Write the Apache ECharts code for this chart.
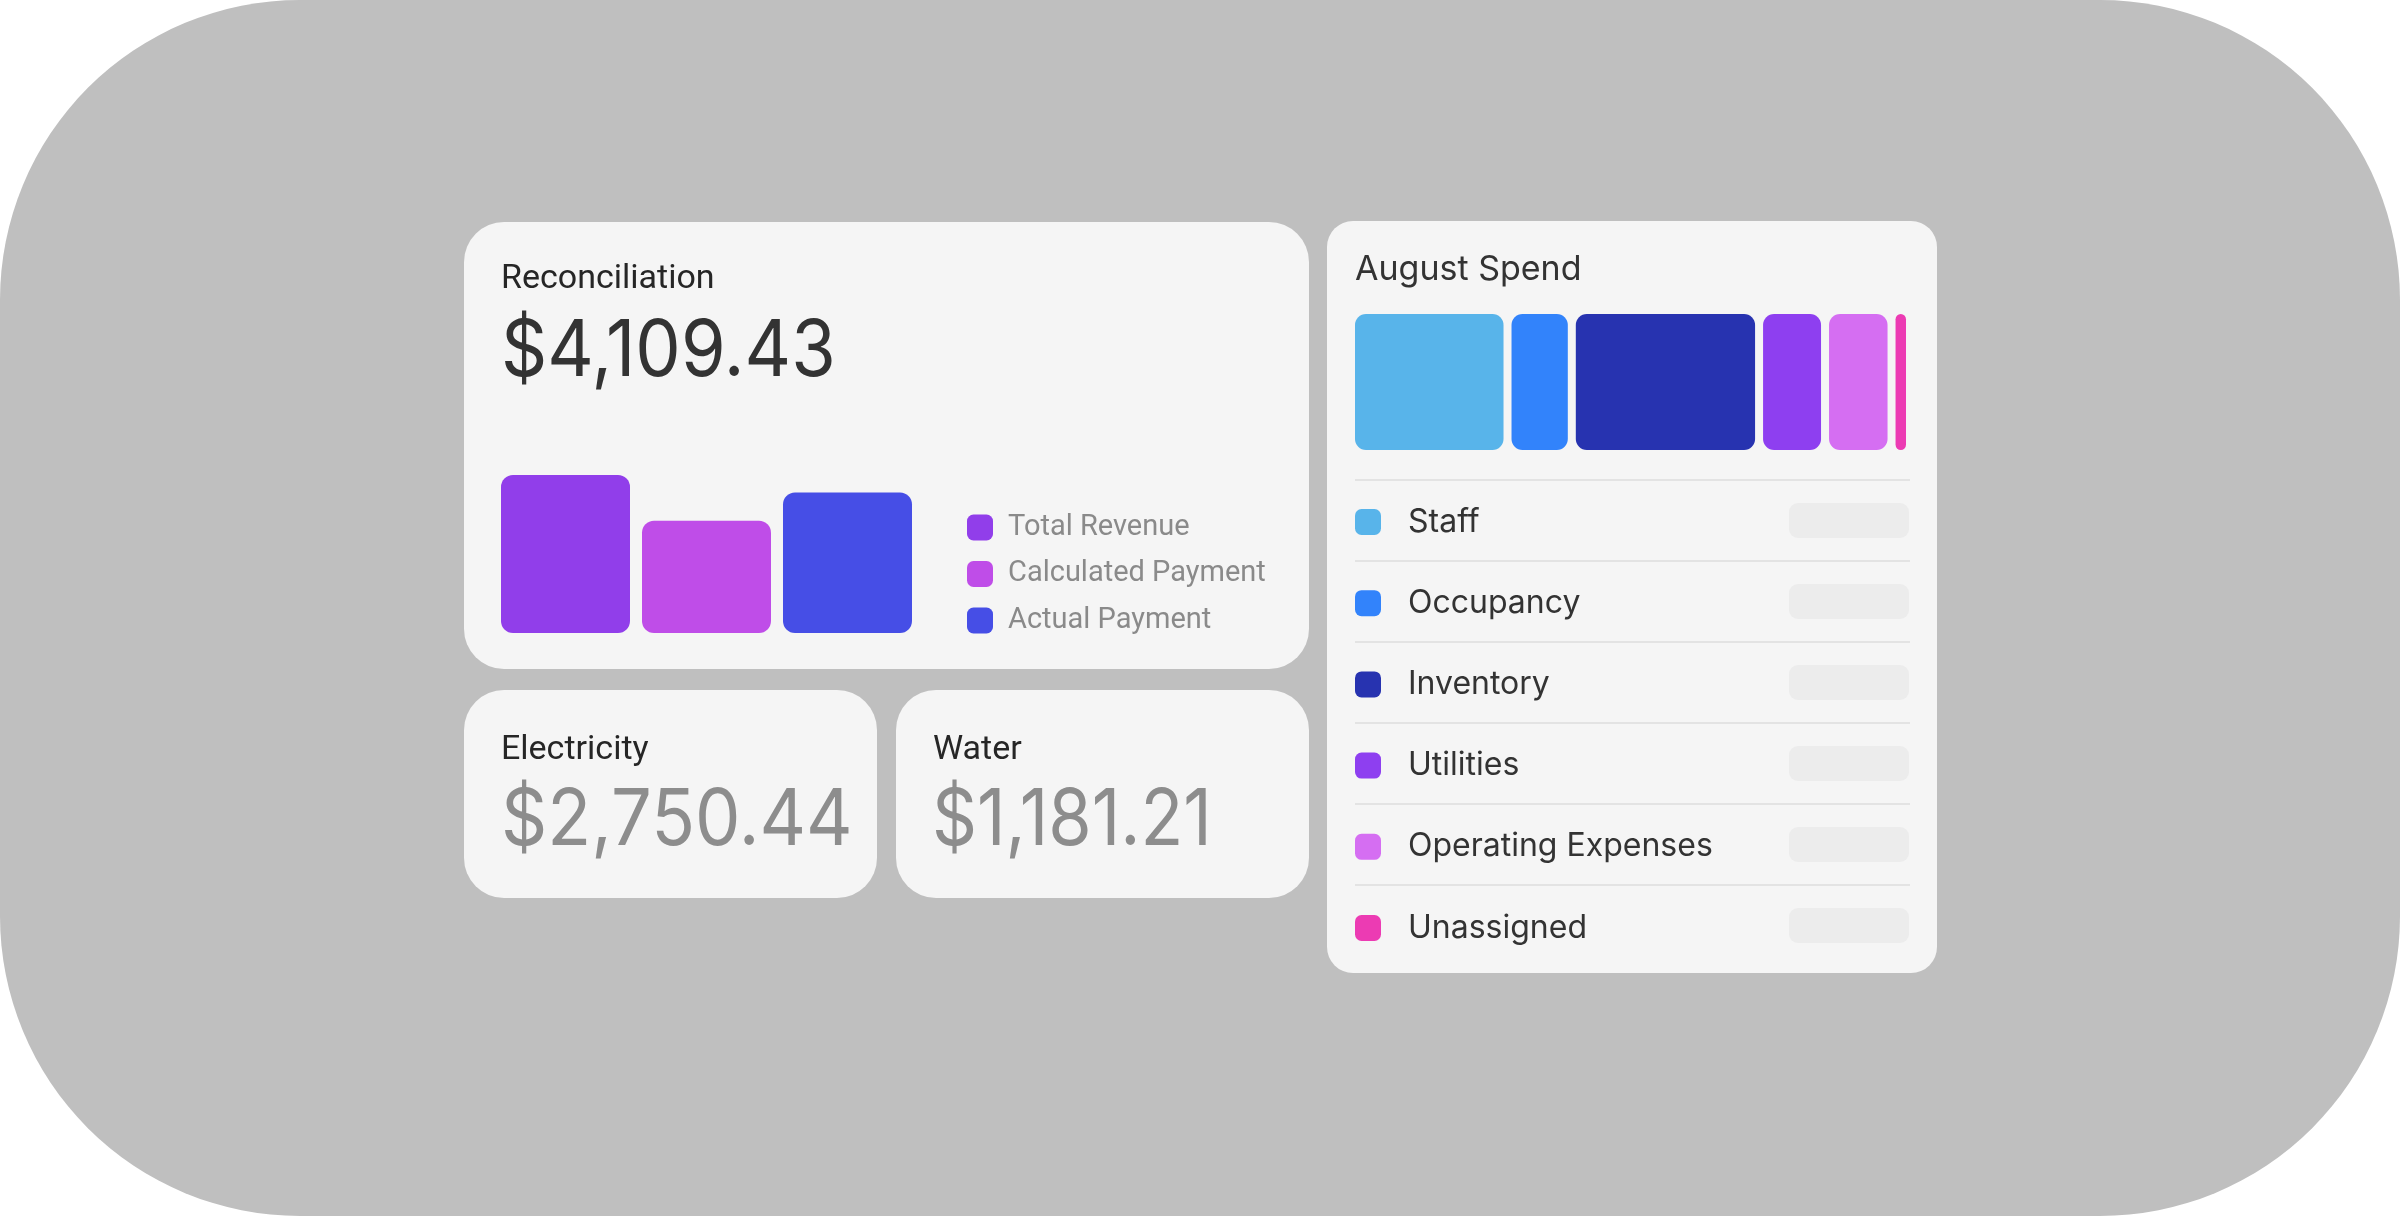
<!DOCTYPE html>
<html>
<head>
<meta charset="utf-8">
<script src="https://cdn.jsdelivr.net/npm/echarts@6/dist/echarts.min.js"></script>
<style>
html, body { margin: 0; padding: 0; background: #ffffff; }
#main { width: 2400px; height: 1216px; }
</style>
</head>
<body>
<div id="main"></div>
<script>
// card texts
const reconTitle = 'Reconciliation';
const reconTotal = '$4,109.43';
const utilityNames = ['Electricity', 'Water'];
const utilityAmounts = ['$2,750.44', '$1,181.21'];

// reconciliation bars (relative heights)
const reconNames = ['Total Revenue', 'Calculated Payment', 'Actual Payment'];
const reconValues = [100, 71, 89];
const reconColors = ['#913eea', '#bf4de8', '#464ee6'];

// august spend split (share of total, %)
const spendTitle = 'August Spend';
const spendNames = ['Staff', 'Occupancy', 'Inventory', 'Utilities', 'Operating Expenses', 'Unassigned'];
const spendValues = [28.0, 11.5, 33.5, 11.8, 11.9, 3.3];
const spendColors = ['#58b4ea', '#3283fb', '#2733b0', '#8e3ff0', '#d56ef2', '#ec3bb3'];

const CARD = '#f5f5f5';
const SEG_GAP = 8;

const chart = echarts.init(document.getElementById('main'), null, { renderer: 'canvas' });

// cumulative start / end of every spend segment
let acc = 0;
const spendRanges = spendValues.map(v => {
    const r = [acc, acc + v, 0];
    acc += v;
    return r;
});
const spendTotal = acc;

function renderSegment(params, api) {
    const p0 = api.coord([api.value(0), 0]);
    const p1 = api.coord([api.value(1), 0]);
    const cs = params.coordSys;
    const w = p1[0] - p0[0] - SEG_GAP;
    return {
        type: 'rect',
        shape: { x: p0[0] + SEG_GAP / 2, y: cs.y, width: w, height: cs.height, r: Math.min(11, w / 2) },
        style: { fill: api.visual('color') }
    };
}

function card(x, y, w, h, r) {
    return { type: 'rect', shape: { x: x, y: y, width: w, height: h, r: r }, style: { fill: CARD } };
}

function label(text, x, y, size, color, family, sx) {
    return {
        type: 'text',
        x: x, y: y,
        scaleX: sx || 1,
        style: {
            text: text,
            font: 'normal ' + size + 'px ' + family,
            fill: color,
            textAlign: 'left', textVerticalAlign: 'middle',
            align: 'left', verticalAlign: 'middle'
        }
    };
}

const graphics = [
    { type: 'rect', shape: { x: 0, y: 0, width: 2400, height: 1216, r: 300 }, style: { fill: '#bfbfbf' } },
    card(464, 222, 845, 447, 40),
    card(464, 690, 413, 208, 40),
    card(896, 690, 413, 208, 40),
    card(1327, 221, 610, 752, 26),
    label(reconTitle, 501, 279, 34, '#262626', 'Roboto'),
    label(reconTotal, 501, 353, 78, '#333333', 'Inter', 0.925),
    label(utilityNames[0], 501, 750, 34, '#262626', 'Roboto'),
    label(utilityAmounts[0], 501, 822, 78, '#8d8d8d', 'Inter', 0.925),
    label(utilityNames[1], 933, 750, 34, '#262626', 'Roboto'),
    label(utilityAmounts[1], 932, 822, 78, '#8d8d8d', 'Inter', 0.9),
    label(spendTitle, 1355, 270, 34, '#333333', 'Inter')
];

// row separators and value placeholders in the spend list
spendNames.forEach((n, i) => {
    const top = 480 + i * 81;
    graphics.push({
        type: 'line',
        shape: { x1: 1355, y1: top, x2: 1910, y2: top },
        style: { stroke: '#e3e3e3', lineWidth: 2 }
    });
    graphics.push({
        type: 'rect',
        shape: { x: 1789, y: top + 23, width: 120, height: 35, r: 9 },
        style: { fill: '#ececec' }
    });
});

const reconSeries = reconNames.map((n, i) => ({
    name: n,
    type: 'bar',
    xAxisIndex: 0,
    yAxisIndex: 0,
    barWidth: 129,
    barGap: '9.3%',
    data: [reconValues[i]],
    itemStyle: { color: reconColors[i], borderRadius: 12 }
}));

const spendSeries = spendNames.map((n, i) => ({
    name: n,
    type: 'custom',
    xAxisIndex: 1,
    yAxisIndex: 1,
    renderItem: renderSegment,
    encode: { x: [0, 1], y: 2 },
    itemStyle: { color: spendColors[i] },
    data: [spendRanges[i]]
}));

chart.setOption({
    animation: false,
    graphic: { elements: graphics },
    grid: [
        { left: 501, top: 475, width: 411, height: 158 },
        { left: 1351, top: 314, width: 559, height: 136 }
    ],
    xAxis: [
        { type: 'category', gridIndex: 0, data: ['Aug'], show: false },
        { type: 'value', gridIndex: 1, min: 0, max: spendTotal, show: false }
    ],
    yAxis: [
        { type: 'value', gridIndex: 0, min: 0, max: 100, show: false },
        { type: 'category', gridIndex: 1, data: ['Aug'], show: false }
    ],
    legend: [
        {
            data: reconNames,
            orient: 'vertical',
            left: 967, top: 513,
            padding: 0,
            itemWidth: 26, itemHeight: 26, itemGap: 17.5,
            icon: 'roundRect',
            selectedMode: false,
            textStyle: { fontFamily: 'Roboto', fontSize: 29, color: '#8a8a8a', padding: [0, 0, 0, 10] }
        },
        {
            data: spendNames,
            orient: 'vertical',
            left: 1355, top: 506,
            padding: 0,
            itemWidth: 26, itemHeight: 26, itemGap: 49.2,
            icon: 'roundRect',
            selectedMode: false,
            textStyle: { fontFamily: 'Inter', fontSize: 32, color: '#333333', padding: [0, 0, 0, 22] }
        }
    ],
    series: reconSeries.concat(spendSeries)
});
</script>
</body>
</html>
